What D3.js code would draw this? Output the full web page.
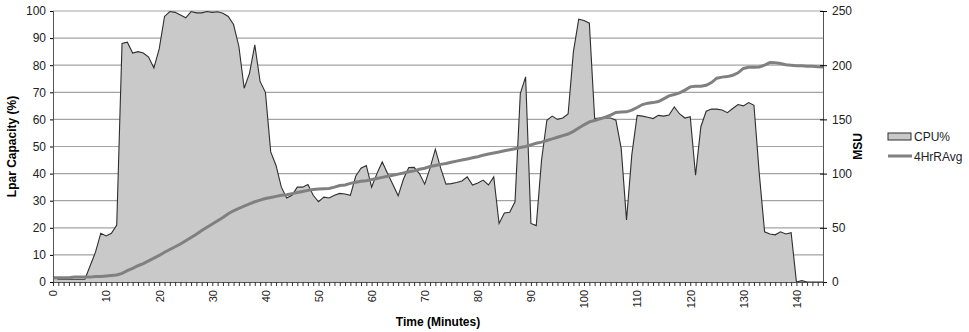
<!DOCTYPE html>
<html>
<head>
<meta charset="utf-8">
<script src="https://cdn.jsdelivr.net/npm/d3@7"></script>
<style>
  body { margin: 0; background: #fff; }
  svg { font-family: "Liberation Sans", Arial, sans-serif; }
</style>
</head>
<body>
<svg width="969" height="332"></svg>
<script>
// CPU% per minute, 0..145
var cpuPct = [2, 1, 1, 1, 1, 1, 1, 6, 11, 18,
  17, 18, 21, 88, 88.5, 84.5, 85, 84.5, 83, 79,
  86, 98, 99.8, 99.5, 98.5, 97.5, 99.8, 99.3, 99.3, 99.8,
  99.5, 99.7, 99.2, 98, 95, 87, 71.5, 77, 87.5, 74,
  70, 48, 43, 35, 31, 32, 35, 35, 36, 32,
  29.6, 31.3, 31, 32, 32.7, 32.5, 32, 39, 42, 43,
  35, 40, 44.3, 40, 36, 31.8, 38, 42.2, 42.3, 40,
  36.1, 42, 49, 42, 36.1, 36.3, 36.7, 37.3, 38.8, 35.8,
  36.5, 37.6, 35.8, 38.8, 21.6, 25.5, 25.7, 29.6, 69.5, 75.7,
  21.6, 20.8, 45, 59.7, 61.2, 60, 60.5, 62, 85, 97,
  96.5, 95.5, 60.3, 60.5, 60.5, 60.5, 59.7, 49.3, 22.9, 47,
  61.5, 61.2, 60.8, 60.3, 61.5, 61.2, 61.6, 64.6, 62, 60.5,
  61, 39.4, 57.3, 63, 63.8, 63.8, 63.5, 62.5, 64, 65.5,
  65, 66.2, 65.2, 40, 18.5, 17.7, 17.4, 18.5, 17.7, 18.2,
  0, 0.5, 0, 0, 0, 0];

// 4 hour rolling average, MSU per minute, 0..145
var rollAvgMsu = [4, 4, 4, 4, 4.5, 4.5, 4.5, 4.5, 5, 5,
  5.5, 6, 6.5, 8, 10.5, 12.6, 15, 17, 19.5, 22,
  24.5, 27.5, 30, 32.5, 35, 38, 41, 44, 47.5, 50.5,
  53.5, 56.5, 59.5, 63, 65.7, 68, 70, 72, 74, 75.5,
  77, 78, 79, 80, 80.5, 81.5, 82.5, 83.5, 84.5, 85.4,
  85.8, 86, 86.3, 87.5, 89, 89.5, 91, 92, 93, 93.5,
  94.5, 95.5, 96.5, 97.5, 98.5, 99.5, 100.5, 101.7, 102.5, 104,
  105, 106.5, 107.5, 108.5, 109.4, 110.5, 111.5, 112.5, 113.5, 114.6,
  115.5, 117, 118, 119, 120, 121, 122, 123, 124, 125,
  126.5, 128, 129, 130.5, 132, 133.5, 135, 136.5, 139, 142,
  145, 147.7, 149, 150.5, 152, 154, 156.4, 156.8, 157, 158.5,
  161, 163.7, 165, 165.5, 166.5, 169, 171.7, 173, 174.5, 177,
  180, 180.5, 180.5, 181.5, 184, 188, 189, 189.5, 190.7, 193,
  197, 198, 198.2, 198.4, 200, 202.4, 202.2, 201.5, 200.5, 200,
  199.5, 199.5, 199, 199, 198.5, 198.4];

var leftTicks = [0, 10, 20, 30, 40, 50, 60, 70, 80, 90, 100];
var rightTicks = [0, 50, 100, 150, 200, 250];
var timeLabels = [0, 10, 20, 30, 40, 50, 60, 70, 80, 90, 100, 110, 120, 130, 140];
var legendNames = ["CPU%", "4HrRAvg"];

var svg = d3.select("svg");
var plotLeft = 53, plotRight = 823, plotTop = 11, plotBottom = 282;

var x = d3.scaleLinear().domain([0, 145]).range([plotLeft, plotRight]);
var yL = d3.scaleLinear().domain([0, 100]).range([plotBottom, plotTop]);
var yR = d3.scaleLinear().domain([0, 250]).range([plotBottom, plotTop]);

// gridlines
svg.append("g")
  .selectAll("line")
  .data(leftTicks.filter(function(d) { return d > 0; }))
  .enter().append("line")
  .attr("x1", plotLeft).attr("x2", plotRight)
  .attr("y1", function(d) { return yL(d); })
  .attr("y2", function(d) { return yL(d); })
  .attr("stroke", "#a3a3a3")
  .attr("stroke-width", 1.2);

// CPU area
var area = d3.area()
  .x(function(d, i) { return x(i); })
  .y0(yL(0))
  .y1(function(d) { return yL(d); });

svg.append("path")
  .datum(cpuPct)
  .attr("d", area)
  .attr("fill", "#c9c9c9")
  .attr("stroke", "none");

svg.append("path")
  .datum(cpuPct)
  .attr("d", d3.line().x(function(d, i) { return x(i); }).y(function(d) { return yL(d); }))
  .attr("fill", "none")
  .attr("stroke", "#2e2e2e")
  .attr("stroke-width", 1.1);

// rolling average line
svg.append("path")
  .datum(rollAvgMsu)
  .attr("d", d3.line().x(function(d, i) { return x(i); }).y(function(d) { return yR(d); }))
  .attr("fill", "none")
  .attr("stroke", "#808080")
  .attr("stroke-width", 3);

// left axis
var axL = svg.append("g")
  .attr("transform", "translate(" + plotLeft + ",0)")
  .call(d3.axisLeft(yL).tickValues(leftTicks).tickSize(3).tickPadding(4));
axL.selectAll("text").attr("font-size", 12).attr("fill", "#222");

// right axis
var axR = svg.append("g")
  .attr("transform", "translate(" + plotRight + ",0)")
  .call(d3.axisRight(yR).tickValues(rightTicks).tickSize(4).tickPadding(5));
axR.selectAll(".tick line").attr("x1", -3);
axR.selectAll("text").attr("font-size", 12).attr("fill", "#222");

// bottom axis: minor tick every minute
var axB = svg.append("g")
  .attr("transform", "translate(0," + plotBottom + ")")
  .call(d3.axisBottom(x).tickValues(d3.range(0, 146)).tickSize(4).tickFormat(""));
axB.selectAll(".tick line").attr("stroke", "#333");

var axBL = svg.append("g")
  .attr("transform", "translate(0," + plotBottom + ")")
  .call(d3.axisBottom(x).tickValues(timeLabels).tickSize(0).tickPadding(0));
axBL.select(".domain").remove();
axBL.selectAll("text")
  .attr("font-size", 11)
  .attr("fill", "#222")
  .attr("text-anchor", "end")
  .attr("y", 0)
  .attr("dy", "0.35em")
  .attr("transform", "translate(0,8) rotate(-90)");

svg.selectAll(".domain").attr("stroke", "#555");

// axis titles
svg.append("text")
  .attr("transform", "translate(16," + ((plotTop + plotBottom) / 2) + ") rotate(-90)")
  .attr("text-anchor", "middle")
  .attr("font-size", 12).attr("font-weight", "bold")
  .text("Lpar Capacity (%)");

svg.append("text")
  .attr("transform", "translate(862," + ((plotTop + plotBottom) / 2) + ") rotate(-90)")
  .attr("text-anchor", "middle")
  .attr("font-size", 12).attr("font-weight", "bold")
  .text("MSU");

svg.append("text")
  .attr("x", (plotLeft + plotRight) / 2).attr("y", 326)
  .attr("text-anchor", "middle")
  .attr("font-size", 12).attr("font-weight", "bold")
  .text("Time (Minutes)");

// legend
var lg = svg.append("g").attr("transform", "translate(888,0)");
lg.append("rect")
  .attr("x", 0).attr("y", 133).attr("width", 23).attr("height", 7)
  .attr("fill", "#c9c9c9").attr("stroke", "#2e2e2e");
lg.append("line")
  .attr("x1", 0).attr("x2", 24).attr("y1", 156).attr("y2", 156)
  .attr("stroke", "#808080").attr("stroke-width", 3);
lg.selectAll("text.lg")
  .data(legendNames)
  .enter().append("text")
  .attr("x", 26)
  .attr("y", function(d, i) { return 141 + i * 20; })
  .attr("font-size", 12).attr("fill", "#222")
  .text(function(d) { return d; });
</script>
</body>
</html>
